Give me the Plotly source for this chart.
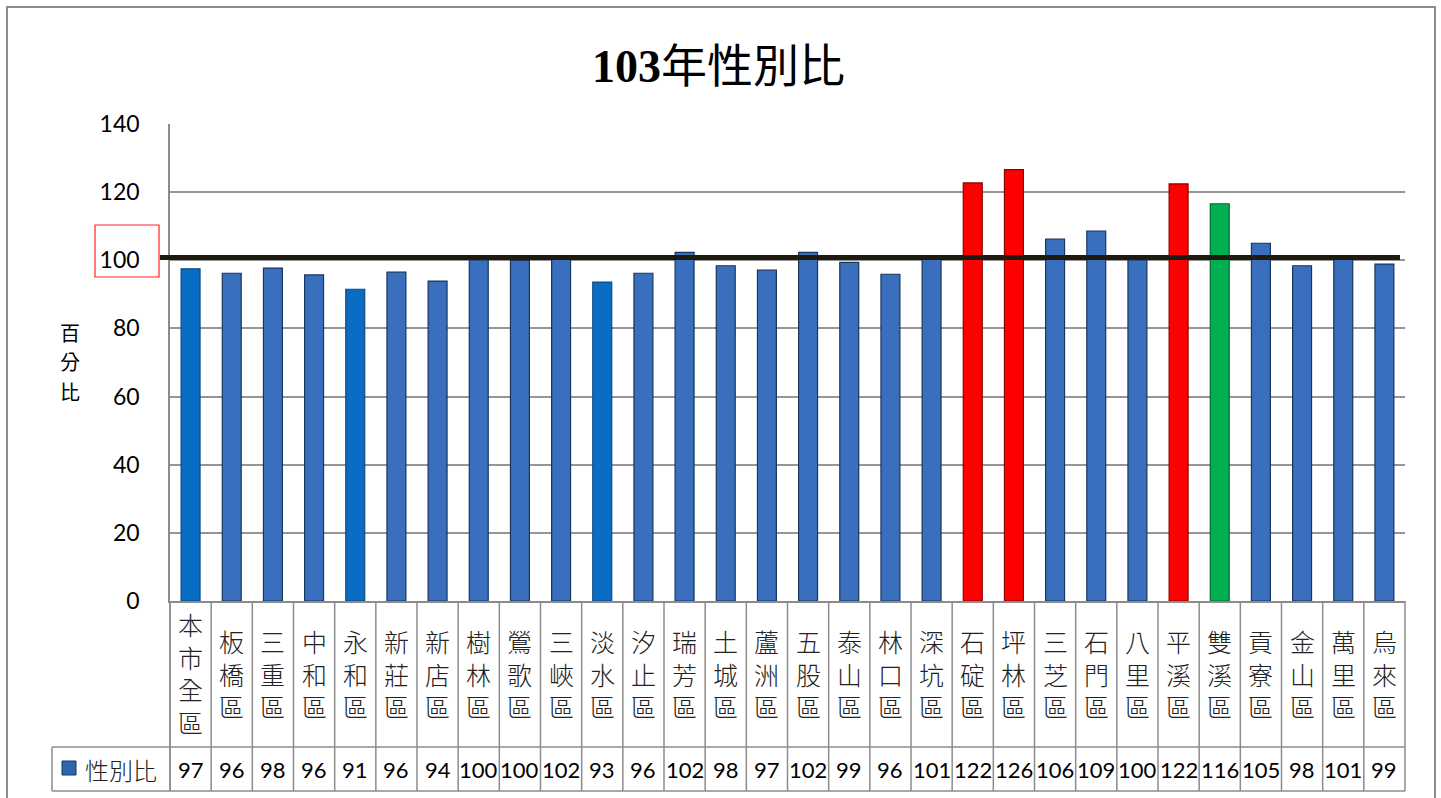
import plotly.graph_objects as go

# ---------------- data ----------------
categories = ["本市全區", "板橋區", "三重區", "中和區", "永和區", "新莊區", "新店區", "樹林區",
              "鶯歌區", "三峽區", "淡水區", "汐止區", "瑞芳區", "土城區", "蘆洲區", "五股區",
              "泰山區", "林口區", "深坑區", "石碇區", "坪林區", "三芝區", "石門區", "八里區",
              "平溪區", "雙溪區", "貢寮區", "金山區", "萬里區", "烏來區"]
# bar heights
bar_values = [97.5, 96.2, 97.7, 95.7, 91.5, 96.5, 93.9, 100.1, 100.0, 100.7,
              93.6, 96.2, 102.3, 98.4, 97.1, 102.3, 99.4, 95.9, 100.3, 122.7,
              126.6, 106.2, 108.6, 100.1, 122.4, 116.6, 105.0, 98.4, 100.5, 98.9]
# values printed in the data table
table_labels = ["97", "96", "98", "96", "91", "96", "94", "100", "100", "102",
                "93", "96", "102", "98", "97", "102", "99", "96", "101", "122",
                "126", "106", "109", "100", "122", "116", "105", "98", "101", "99"]
series_name = "性別比"
title_year = "103"
title_rest = "年性別比"
y_title = "百分比"
y_ticks = [0, 20, 40, 60, 80, 100, 120, 140]
reference_value = 100

# ---------------- styles ----------------
BLUE, BLUE2, RED, GREEN = "#3A6FBD", "#0A6CC2", "#FF0000", "#00B050"
bar_colors = [BLUE2, BLUE, BLUE, BLUE, BLUE2, BLUE, BLUE, BLUE, BLUE, BLUE,
              BLUE2, BLUE, BLUE, BLUE, BLUE, BLUE, BLUE, BLUE, BLUE, RED,
              RED, BLUE, BLUE, BLUE, RED, GREEN, BLUE, BLUE, BLUE, BLUE]
edge_map = {BLUE: "#17375E", BLUE2: "#0B4A85", RED: "#8B0000", GREEN: "#006B30"}
bar_edges = [edge_map[c] for c in bar_colors]

W, H = 1441, 798
L, R, T, B = 170, 36, 124, 197
PW, PH = W - L - R, H - T - B
GRID = "#8C8C8C"
CJK = "Noto Sans CJK TC"
LAT = "Lato, Liberation Sans, sans-serif"


def px_x(px):
    return (px - L) / PW


def px_y(py):
    return (H - B - py) / PH


fig = go.Figure()
fig.add_trace(go.Bar(
    x=categories, y=bar_values, name=series_name, width=0.46,
    marker=dict(color=bar_colors, line=dict(color=bar_edges, width=1.2)),
    showlegend=False,
))

n = len(categories)
shapes = []
# reference line at 100
shapes.append(dict(type="line", xref="paper", yref="y", x0=px_x(160), x1=px_x(1400),
                   y0=reference_value + 0.8, y1=reference_value + 0.8,
                   line=dict(color="#1E1A10", width=5), layer="above"))
# data table grid
top_px, mid_px, bot_px = H - B, 747, 791
for i in range(n + 1):
    xp = i / n
    shapes.append(dict(type="line", xref="paper", yref="paper", x0=xp, x1=xp,
                       y0=px_y(top_px), y1=px_y(bot_px), line=dict(color=GRID, width=1.5)))
for yy in (mid_px, bot_px):
    shapes.append(dict(type="line", xref="paper", yref="paper", x0=px_x(52), x1=1,
                       y0=px_y(yy), y1=px_y(yy), line=dict(color=GRID, width=1.5)))
shapes.append(dict(type="line", xref="paper", yref="paper", x0=px_x(52), x1=px_x(52),
                   y0=px_y(mid_px), y1=px_y(bot_px), line=dict(color=GRID, width=1.5)))
shapes.append(dict(type="line", xref="paper", yref="paper", x0=0, x1=0,
                   y0=px_y(top_px), y1=px_y(bot_px), line=dict(color=GRID, width=1.5)))
# legend key square
shapes.append(dict(type="rect", xref="paper", yref="paper", x0=px_x(62), x1=px_x(76),
                   y0=px_y(775), y1=px_y(761), fillcolor="#2F65B0",
                   line=dict(color="#17375E", width=1)))
# red box around 100 tick
shapes.append(dict(type="rect", xref="paper", yref="paper", x0=px_x(95), x1=px_x(159),
                   y0=px_y(277), y1=px_y(225), line=dict(color="#FF2020", width=1.2)))
# outer chart border
shapes.append(dict(type="rect", xref="paper", yref="paper", x0=px_x(7), x1=px_x(1435),
                   y0=px_y(805), y1=px_y(7), line=dict(color="#8C8C8C", width=2)))

annotations = []
for cat, lab in zip(categories, table_labels):
    annotations.append(dict(x=cat, xref="x", y=px_y(673), yref="paper",
                            text="<br>".join(cat), showarrow=False, yanchor="middle",
                            font=dict(family=CJK, size=25, color="#222222", weight=300)))
    annotations.append(dict(x=cat, xref="x", y=px_y(769), yref="paper",
                            text=lab, showarrow=False, yanchor="middle",
                            font=dict(family=LAT, size=22, color="#000000")))
annotations.append(dict(x=px_x(83), xref="paper", y=px_y(769), yref="paper",
                        text=series_name, showarrow=False, xanchor="left", yanchor="middle",
                        font=dict(family=CJK, size=24, color="#222222", weight=300)))
# vertical axis title, one character per row
for k, ch in enumerate(y_title):
    annotations.append(dict(x=px_x(58), xref="paper", y=px_y(332 + 29.5 * k), yref="paper",
                            text=ch, showarrow=False, yanchor="middle",
                            font=dict(family=CJK, size=20, color="#000000", weight=400)))
annotations.append(dict(x=px_x(718), xref="paper", y=px_y(62), yref="paper",
                        text=(f'<span style="font-family:Liberation Serif;font-weight:bold">{title_year}</span>'
                              f'<span style="font-family:{CJK}">{title_rest}</span>'),
                        showarrow=False, yanchor="middle",
                        font=dict(family=CJK, size=46, color="#000000")))

fig.update_layout(
    width=W, height=H,
    margin=dict(l=L, r=R, t=T, b=B, pad=0),
    paper_bgcolor="white", plot_bgcolor="white",
    shapes=shapes, annotations=annotations,
    bargap=0.5,
    xaxis=dict(showticklabels=False, showgrid=False, showline=True, linecolor=GRID,
               linewidth=1.5, range=[-0.5, n - 0.5], ticks=""),
    yaxis=dict(range=[0, 140], tickvals=y_ticks, showgrid=True, gridcolor="#969696",
               gridwidth=1.5, zeroline=False, showline=True, linecolor=GRID, linewidth=1.5,
               ticks="", ticklabelstandoff=24,
               tickfont=dict(family=LAT, size=23, color="#000000")),
)

fig.write_html("out.html", config={"displayModeBar": False},
               post_script="document.body.style.margin='0';document.body.style.overflow='hidden';")
